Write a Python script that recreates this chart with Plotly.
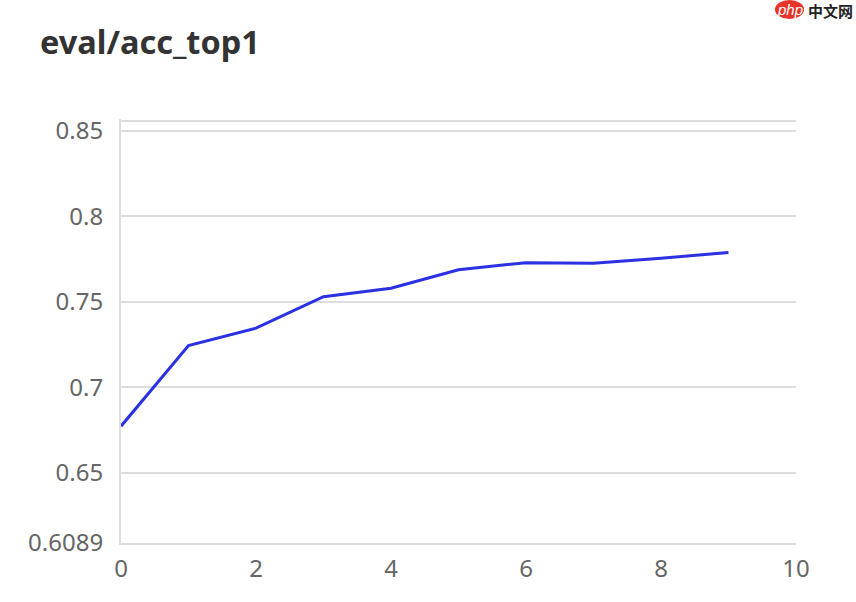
import plotly.graph_objects as go

steps = [0, 1, 2, 3, 4, 5, 6, 7, 8, 9]
acc_top1 = [0.6772, 0.7243, 0.7345, 0.7529, 0.7579, 0.7687, 0.7728, 0.7725, 0.7754, 0.7787]
y_ticks = [0.6089, 0.65, 0.7, 0.75, 0.8, 0.85, 0.8558]
y_labels = ["0.6089", "0.65", "0.7", "0.75", "0.8", "0.85", ""]
x_ticks = [0, 2, 4, 6, 8, 10]
title = "eval/acc_top1"
FONT = "Noto Sans"

fig = go.Figure(go.Scatter(x=steps, y=acc_top1, mode="lines",
                           line=dict(color="#2b31e3", width=3), hoverinfo="skip",
                           cliponaxis=False))
PL, PT, PW, PH = 121, 119, 675, 424
fig.update_layout(
    width=856, height=602, autosize=False, paper_bgcolor="white", plot_bgcolor="white",
    margin=dict(l=PL, r=856 - PL - PW, t=PT, b=602 - PT - PH), showlegend=False,
    font=dict(family=FONT, color="#666666", size=24),
    title=dict(text="<b>" + title + "</b>", x=40 / 856, xanchor="left", xref="container",
               y=1 - 43 / 602, yanchor="middle", yref="container",
               font=dict(family=FONT, size=32.5, color="#333333")),
    xaxis=dict(range=[0, 10], tickvals=x_ticks, showgrid=False, zeroline=False,
               showline=True, linecolor="#dddddd", linewidth=2, ticks="", ticklen=0,
               ticklabelstandoff=3),
    yaxis=dict(range=[0.6089, 0.8568], tickvals=y_ticks, ticktext=y_labels, showgrid=True,
               gridcolor="#dddddd", gridwidth=2, zeroline=False, showline=True,
               linecolor="#dddddd", linewidth=2, ticks="", ticklen=0,
               ticklabelstandoff=11),
    shapes=[dict(type="circle", xref="paper", yref="paper", layer="above",
                 x0=(775 - PL) / PW, x1=(804 - PL) / PW,
                 y0=(PT + PH - 19) / PH, y1=(PT + PH - 0) / PH,
                 fillcolor="#e8352b", line=dict(width=0))],
    annotations=[
        dict(text="<i>php</i>", xref="paper", yref="paper", showarrow=False,
             x=(789.5 - PL) / PW, y=(PT + PH - 9.5) / PH, xanchor="center", yanchor="middle",
             font=dict(family="Liberation Sans", size=15, color="white")),
        dict(text="<b>中文网</b>", xref="paper", yref="paper", showarrow=False,
             x=(806 - PL) / PW, y=(PT + PH - 10) / PH, xanchor="left", yanchor="middle",
             font=dict(family="Noto Sans CJK SC", size=15, color="#222222")),
    ],
)
fig.write_html("out.html", post_script="document.body.style.margin='0';",
               config={"displayModeBar": False})
